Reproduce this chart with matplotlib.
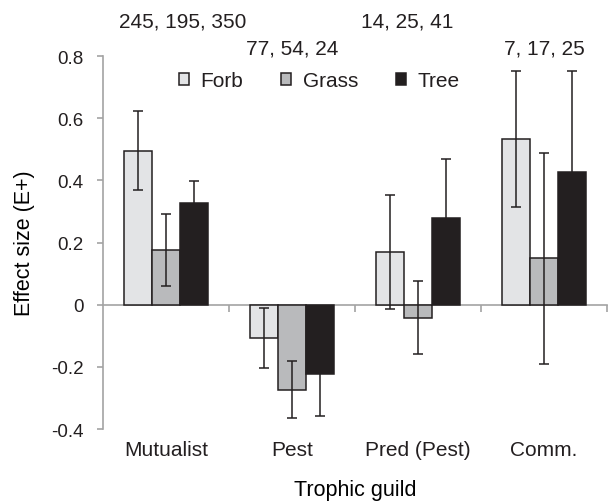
import matplotlib
matplotlib.use("Agg")
import matplotlib.pyplot as plt
import numpy as np

# values
guilds = ["Mutualist", "Pest", "Pred (Pest)", "Comm."]
sample_sizes = ["245, 195, 350", "77, 54, 24", "14, 25, 41", "7, 17, 25"]
forb = [0.495, -0.107, 0.169, 0.533]
forb_err = [0.127, 0.096, 0.184, 0.220]
grass = [0.176, -0.273, -0.042, 0.149]
grass_err = [0.117, 0.093, 0.118, 0.340]
tree = [0.328, -0.222, 0.280, 0.427]
tree_err = [0.069, 0.135, 0.189, 0.326]
series_names = ["Forb", "Grass", "Tree"]
yticks = [-0.4, -0.2, 0, 0.2, 0.4, 0.6, 0.8]
ytick_labels = ["-0.4", "-0.2", "0", "0.2", "0.4", "0.6", "0.8"]

plt.rcParams["font.family"] = ["Liberation Sans", "DejaVu Sans"]
plt.rcParams["font.size"] = 15
plt.rcParams["text.color"] = "#231f20"

ink = "#231f20"
axis_grey = "#a3a3a3"
colors = ["#e3e4e6", "#b9babc", "#231f20"]

fig = plt.figure(figsize=(6.09, 5.02), dpi=100)
ax = fig.add_axes([0.1691, 0.1434, 0.8276, 0.743])

x = np.arange(len(guilds)) + 0.5
w = 0.222
series = [(forb, forb_err), (grass, grass_err), (tree, tree_err)]
handles = []
for i, (vals, errs) in enumerate(series):
    xs = x + (i - 1) * w
    b = ax.bar(xs, vals, width=w, color=colors[i], edgecolor=ink,
               linewidth=1.1, label=series_names[i], zorder=2)
    handles.append(b)
    ax.errorbar(xs, vals, yerr=errs, fmt="none", ecolor=ink,
                elinewidth=1.1, capsize=3.3, capthick=1.1, zorder=3)

ax.set_xlim(0, 4)
ax.set_ylim(-0.4, 0.8)
ax.set_yticks(yticks)
ax.set_yticklabels(ytick_labels, fontsize=13.5)
ax.set_xticks(x)
ax.set_xticklabels(guilds, fontsize=15)

for s in ["top", "right", "bottom"]:
    ax.spines[s].set_visible(False)
ax.spines["left"].set_color(axis_grey)
ax.spines["left"].set_linewidth(1.2)
ax.tick_params(axis="y", direction="out", length=4, width=1.2,
               color=axis_grey, pad=10, labelcolor=ink)
ax.tick_params(axis="x", length=0, pad=8, labelcolor=ink)

# zero line with category separator ticks
zero = ax.secondary_xaxis(0, transform=ax.transData)
zero.spines["bottom"].set_color(axis_grey)
zero.spines["bottom"].set_linewidth(1.2)
zero.set_xticks(np.arange(1, len(guilds) + 1))
zero.tick_params(axis="x", direction="out", length=5, width=1.2,
                 color=axis_grey, labelbottom=False)

ax.set_ylabel("Effect size (E+)", va="center", fontsize=15.5)
ax.yaxis.set_label_coords(-0.155, 0.5)
ax.set_xlabel("Trophic guild", va="center", fontsize=15.5)
ax.xaxis.set_label_coords(0.5, -0.163)

# sample sizes above the groups, staggered (nudged a bit like the original)
nudge = [12, 0, -8, 0]
for i, txt in enumerate(sample_sizes):
    yy = 0.913 if i % 2 == 0 else 0.826
    ax.annotate(txt, (x[i], yy), xytext=(nudge[i], 0),
                textcoords="offset points", ha="center", va="center",
                fontsize=15, annotation_clip=False)

ax.legend(handles=handles, ncol=3, frameon=False, loc="center",
          bbox_to_anchor=(0.524, 0.837), bbox_transform=fig.transFigure,
          handlelength=0.5, handleheight=0.5, handletextpad=0.55,
          columnspacing=1.8, fontsize=15)

fig.savefig("out.png", dpi=100)
